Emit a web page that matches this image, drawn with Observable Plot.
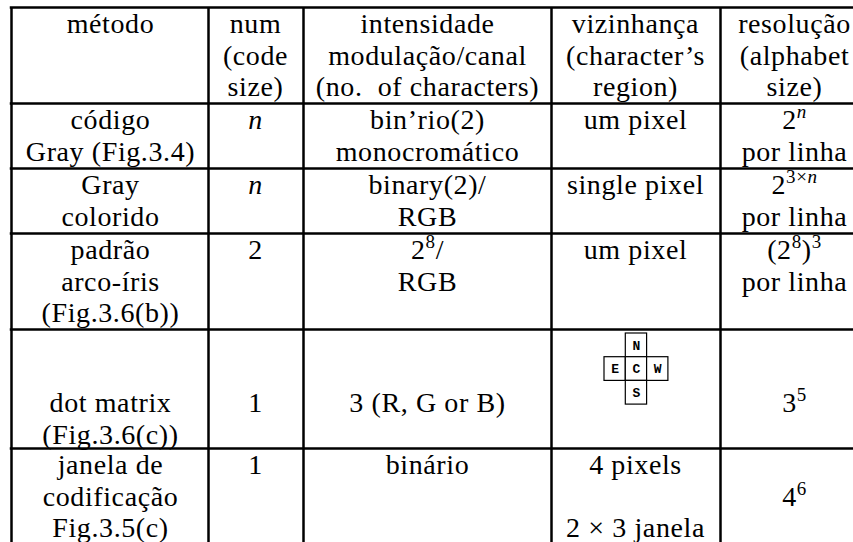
<!DOCTYPE html>
<html><head><meta charset="utf-8">
<script src="https://cdn.jsdelivr.net/npm/d3@7"></script>
<script src="https://cdn.jsdelivr.net/npm/@observablehq/plot@0.6"></script>
<style>
html,body{margin:0;padding:0;background:#fff}
#chart svg text.cell{font-family:"Liberation Serif","Times New Roman",serif !important;letter-spacing:0.6px}
#chart svg text.cmp{font-family:"Liberation Mono",monospace !important;font-weight:bold}
</style>
</head><body><div id="chart"></div>
<script>
// ---- table content ----
const headers = [
  ["método"],
  ["num", "(code", "size)"],
  ["intensidade", "modulação/canal", "(no.  of characters)"],
  ["vizinhança", "(character’s", "region)"],
  ["resolução", "(alphabet", "size)"]
];
const methods = [
  ["código", "Gray (Fig.3.4)"],
  ["Gray", "colorido"],
  ["padrão", "arco-íris", "(Fig.3.6(b))"],
  ["dot matrix", "(Fig.3.6(c))"],
  ["janela de", "codificação", "Fig.3.5(c)"]
];
const codeSizes = [["*n*"], ["*n*"], ["2"], ["1"], ["1"]];
const intensities = [
  ["bin’rio(2)", "monocromático"],
  ["binary(2)/", "RGB"],
  ["2^{8}/", "RGB"],
  ["3 (R, G or B)"],
  ["binário"]
];
const neighbourhoods = [
  ["um pixel"],
  ["single pixel"],
  ["um pixel"],
  [""],
  ["4 pixels", "", "2 × 3 janela"]
];
const resolutions = [
  ["2^{*n*}", "por linha"],
  ["2^{3×*n*}", "por linha"],
  ["(2^{8})^{3}", "por linha"],
  ["3^{5}"],
  ["", "4^{6}"]
];
// neighbourhood diagram (character's region) in the dot-matrix row
const compassLabels = ["N", "E", "C", "W", "S"];
const compassCols = [1, 0, 1, 2, 1];
const compassRows = [0, 1, 1, 1, 2];

// ---- layout ----
const W = 853, H = 542;
const SERIF = "Liberation Serif";
const MONO = "Liberation Mono";
const FS = 28;
const colEdges = [11, 208, 303, 551, 720];
const colCenters = [110, 255, 427, 635, 794];
const rowEdges = [7, 103, 168, 233, 329, 448];
const rowLead = [17, 17, 17, 17, 74, 17];
const lineStep = 31.5;
const figX0 = 604, figY0 = 333, figCW = 21.3, figCH = 23.7;

const columns = [methods, codeSizes, intensities, neighbourhoods, resolutions];
const cells = [];
for (let r = 0; r < 6; r++) {
  for (let c = 0; c < 5; c++) {
    const lines = r === 0 ? headers[c] : columns[c][r - 1];
    lines.forEach((s, i) => {
      if (s) cells.push({x: colCenters[c], y: rowEdges[r] + rowLead[r] + i * lineStep, text: s});
    });
  }
}
const compass = compassLabels.map((label, i) => ({
  label,
  x1: figX0 + compassCols[i] * figCW, x2: figX0 + (compassCols[i] + 1) * figCW,
  y1: figY0 + compassRows[i] * figCH, y2: figY0 + (compassRows[i] + 1) * figCH
}));

const chart = Plot.plot({
  width: W, height: H,
  margin: 0,
  x: {domain: [0, W], range: [0, W], axis: null},
  y: {domain: [0, H], range: [0, H], axis: null},
  style: {fontFamily: SERIF},
  marks: [
    Plot.ruleY(rowEdges, {y: d => d, x1: colEdges[0] - 1.25, x2: W, stroke: "#000", strokeWidth: 2.5}),
    Plot.ruleX(colEdges, {x: d => d, y1: rowEdges[0], y2: H, stroke: "#000", strokeWidth: 2.5}),
    Plot.rect(compass, {x1: "x1", x2: "x2", y1: "y1", y2: "y2", fill: "#fff", stroke: "#000", strokeWidth: 1.2}),
    Plot.text(compass, {x: d => (d.x1 + d.x2) / 2, y: d => (d.y1 + d.y2) / 2, text: "label",
      fontFamily: MONO, fontWeight: "bold", fontSize: 13, fill: "#000"}),
    Plot.text(cells, {x: "x", y: "y", text: "text", fontFamily: SERIF,
      fontSize: FS, fill: "#000", lineAnchor: "middle"})
  ]
});
document.getElementById("chart").appendChild(chart);

// ^{...} (superscript) and *...* (math italic) markup turned into tspans
const NS = "http://www.w3.org/2000/svg";
chart.querySelectorAll("text").forEach(el => {
  const s = el.textContent;
  const isCompass = compassLabels.includes(s);
  el.setAttribute("class", isCompass ? "cmp" : "cell");
  el.setAttribute("font-family", isCompass ? MONO : SERIF);
  if (!/[\^*]/.test(s)) return;
  const segs = [];
  let sup = false, it = false, buf = "";
  const flush = () => { if (buf) segs.push({t: buf, sup, it}); buf = ""; };
  for (let i = 0; i < s.length; i++) {
    const ch = s[i];
    if (ch === "^" && s[i + 1] === "{") { flush(); sup = true; i++; }
    else if (ch === "}" && sup) { flush(); sup = false; }
    else if (ch === "*") { flush(); it = !it; }
    else buf += ch;
  }
  flush();
  el.textContent = "";
  let shift = 0;
  segs.forEach(seg => {
    const t = document.createElementNS(NS, "tspan");
    const target = seg.sup ? -11 : 0;
    if (target !== shift) { t.setAttribute("dy", target - shift); shift = target; }
    if (seg.sup) t.setAttribute("font-size", 19);
    if (seg.it) t.setAttribute("font-style", "italic");
    t.textContent = seg.t;
    el.appendChild(t);
  });
});
</script>
</body></html>
